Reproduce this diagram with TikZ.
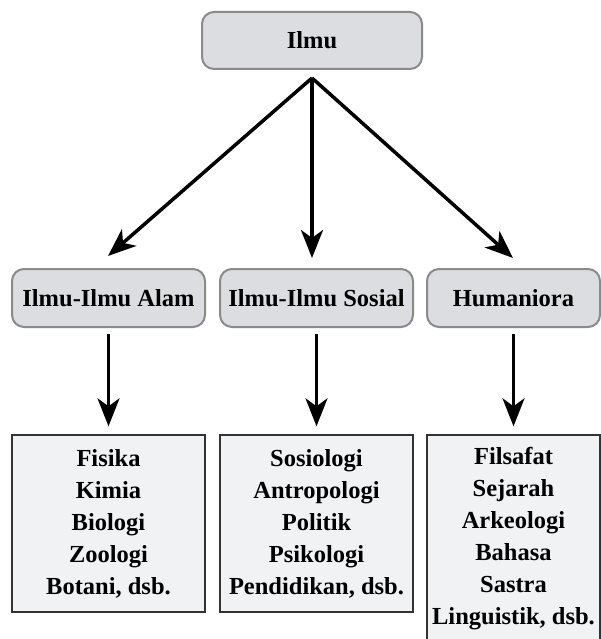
\documentclass[tikz,border=0pt]{standalone}
\usepackage{fontspec}
\setmainfont{Liberation Serif}
\usetikzlibrary{arrows.meta}
\definecolor{headfill}{HTML}{DCDDE0}
\definecolor{headline}{HTML}{8A8A8A}
\definecolor{listfill}{HTML}{F1F2F3}
\definecolor{listline}{HTML}{333333}
\begin{document}
\begin{tikzpicture}[x=1pt,y=-1pt,
  headbox/.style={draw=headline, fill=headfill, line width=2pt, rounded corners=12pt,
    minimum height=58pt, inner sep=0pt},
  listbox/.style={draw=listline, fill=listfill, line width=1.4pt, minimum width=193pt,
    inner sep=0pt, align=center},
  branch/.style={-{Stealth[length=28pt,width=22pt,inset=8pt]}, line width=3.5pt, black},
  font=\fontsize{24.5}{32}\selectfont\bfseries]
\clip (0,0) rectangle (601,639);
\node[headbox, minimum width=220pt, minimum height=57pt] (ilmu) at (312,40.5) {Ilmu};
\node[headbox, minimum width=193pt] (alam) at (108.5,298) {Ilmu-Ilmu Alam};
\node[headbox, minimum width=193pt] (sosial) at (316.5,298) {Ilmu-Ilmu Sosial};
\node[headbox, minimum width=173pt] (huma) at (513.5,298) {Humaniora};
\node[listbox, minimum height=177pt] (alamlist) at (108.5,523.5)
  {Fisika\\Kimia\\Biologi\\Zoologi\\Botani, dsb.};
\node[listbox, minimum height=177pt] (sosiallist) at (316.5,523.5)
  {Sosiologi\\Antropologi\\Politik\\Psikologi\\Pendidikan, dsb.};
\node[listbox, minimum width=173pt, minimum height=208pt] (humalist) at (513.5,539)
  {Filsafat\\Sejarah\\Arkeologi\\Bahasa\\Sastra\\Linguistik, dsb.};
\coordinate (fork) at (312,78);
\coordinate (alamtip) at (108,256);
\coordinate (sosialtip) at (312,258);
\coordinate (humatip) at (513,258);
\draw[branch] (fork)--(alamtip);
\draw[branch] (fork)--(sosialtip);
\draw[branch] (fork)--(humatip);
\draw[branch, shorten <=6pt, shorten >=8pt] (alam.south)--(alamlist.north);
\draw[branch, shorten <=6pt, shorten >=8pt] (sosial.south)--(sosiallist.north);
\draw[branch, shorten <=6pt, shorten >=8pt] (huma.south)--(humalist.north);
\end{tikzpicture}
\end{document}
